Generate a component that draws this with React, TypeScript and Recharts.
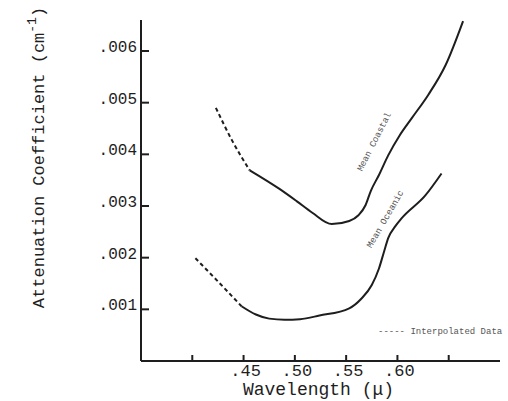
import React from 'react';
import { LineChart, Line, XAxis, YAxis, ReferenceDot } from 'recharts';

// wavelength (micron) / attenuation (cm^-1)
const coastalInterpX = [0.423, 0.439, 0.456];
const coastalInterpY = [0.0049, 0.00426, 0.00369];
const coastalX = [0.456, 0.485, 0.502, 0.517, 0.536, 0.553, 0.562, 0.569, 0.574, 0.582, 0.591, 0.602, 0.614, 0.63, 0.647, 0.664];
const coastalY = [0.00369, 0.00333, 0.00309, 0.00287, 0.00265, 0.00271, 0.00282, 0.00302, 0.00329, 0.0036, 0.00398, 0.00436, 0.0047, 0.00515, 0.00573, 0.00658];

const oceanicInterpX = [0.403, 0.425, 0.448];
const oceanicInterpY = [0.00199, 0.00154, 0.00106];
const oceanicX = [0.448, 0.462, 0.475, 0.49, 0.505, 0.524, 0.553, 0.565, 0.575, 0.582, 0.587, 0.591, 0.598, 0.604, 0.627, 0.643];
const oceanicY = [0.00106, 0.0009, 0.00082, 0.0008, 0.00081, 0.00088, 0.00102, 0.00121, 0.00147, 0.00179, 0.00212, 0.00238, 0.00261, 0.00276, 0.0032, 0.00363];

const xTicks = [0.4, 0.45, 0.5, 0.55, 0.6, 0.65];
const xTickLabels = ['', '.45', '.50', '.55', '.60', ''];
const yTicks = [0.001, 0.002, 0.003, 0.004, 0.005, 0.006];
const yTickLabels = ['.001', '.002', '.003', '.004', '.005', '.006'];

const zip = (xs: number[], ys: number[]) => xs.map((x, i) => ({ x, y: ys[i] }));

const INK = '#1e1e1e';
const FONT = '"Liberation Mono", "DejaVu Sans Mono", monospace';

const XTick = (props: any) => {
    const { x, y, payload } = props;
    const i = xTicks.indexOf(payload.value);
    return (
        <g>
            <line x1={x} y1={y} x2={x} y2={y - 6} stroke={INK} strokeWidth={2} />
            <text x={x + 2} y={y + 15} textAnchor="middle" fontFamily={FONT} fontSize={17} fill={INK}>
                {xTickLabels[i]}
            </text>
        </g>
    );
};

const YTick = (props: any) => {
    const { x, y, payload } = props;
    const i = yTicks.indexOf(payload.value);
    return (
        <g>
            <line x1={x} y1={y} x2={x + 8} y2={y} stroke={INK} strokeWidth={2} />
            <text x={x - 4} y={y + 1} textAnchor="end" fontFamily={FONT} fontSize={16} fill={INK}>
                {yTickLabels[i]}
            </text>
        </g>
    );
};

const curveLabel = (text: string, angle: number) => (p: any) => (
    <text
        x={p.cx}
        y={p.cy}
        transform={`rotate(${angle} ${p.cx} ${p.cy})`}
        textAnchor="middle"
        fontFamily={FONT}
        fontSize={9}
        fill="#555"
    >
        {text}
    </text>
);

const App = () => {
    return (
        <div style={{ position: 'absolute', left: 0, top: 0, background: '#fff' }}>
            <LineChart width={508} height={401} margin={{ top: 20, right: 8, left: 0, bottom: 0 }}>
                <XAxis
                    type="number"
                    dataKey="x"
                    domain={[0.35, 0.7]}
                    ticks={xTicks}
                    interval={0}
                    tickSize={0}
                    tickMargin={0}
                    tickLine={false}
                    tick={<XTick />}
                    axisLine={{ stroke: INK, strokeWidth: 2 }}
                    height={40}
                    allowDataOverflow
                    label={{
                        content: (p: any) => (
                            <text
                                x={p.viewBox.x + p.viewBox.width / 2 - 2}
                                y={p.viewBox.y + 34}
                                textAnchor="middle"
                                fontFamily={FONT}
                                fontSize={18}
                                fill={INK}
                            >
                                Wavelength (μ)
                            </text>
                        ),
                    }}
                />
                <YAxis
                    type="number"
                    domain={[0, 0.0066]}
                    ticks={yTicks}
                    interval={0}
                    width={141}
                    tickSize={0}
                    tickMargin={0}
                    tickLine={false}
                    tick={<YTick />}
                    axisLine={{ stroke: INK, strokeWidth: 2 }}
                    allowDataOverflow
                    label={{
                        content: (p: any) => {
                            const cx = p.viewBox.x + 39;
                            const cy = p.viewBox.y + p.viewBox.height / 2 - 33;
                            return (
                                <text
                                    x={cx}
                                    y={cy}
                                    transform={`rotate(-90 ${cx} ${cy})`}
                                    textAnchor="middle"
                                    dominantBaseline="central"
                                    fontFamily={FONT}
                                    fontSize={17}
                                    fill={INK}
                                >
                                    Attenuation Coefficient (cm
                                    <tspan dy={-7} fontSize={13}>-1</tspan>
                                    <tspan dy={7}>)</tspan>
                                </text>
                            );
                        },
                    }}
                />
                <Line data={zip(coastalInterpX, coastalInterpY)} dataKey="y" type="monotone" stroke={INK} strokeWidth={2} strokeDasharray="4 3" dot={false} isAnimationActive={false} />
                <Line data={zip(coastalX, coastalY)} dataKey="y" type="monotone" stroke={INK} strokeWidth={2} dot={false} isAnimationActive={false} />
                <Line data={zip(oceanicInterpX, oceanicInterpY)} dataKey="y" type="monotone" stroke={INK} strokeWidth={2} strokeDasharray="4 3" dot={false} isAnimationActive={false} />
                <Line data={zip(oceanicX, oceanicY)} dataKey="y" type="monotone" stroke={INK} strokeWidth={2} dot={false} isAnimationActive={false} />
                <ReferenceDot x={0.5797} y={0.00422} r={0} shape={curveLabel('Mean Coastal', -63)} />
                <ReferenceDot x={0.5904} y={0.00272} r={0} shape={curveLabel('Mean Oceanic', -60)} />
            </LineChart>
            <div
                style={{
                    position: 'absolute',
                    left: 378,
                    top: 327,
                    fontFamily: FONT,
                    fontSize: 9,
                    color: '#555',
                    whiteSpace: 'pre',
                }}
            >
                ----- Interpolated Data
            </div>
        </div>
    );
};

export default App;
